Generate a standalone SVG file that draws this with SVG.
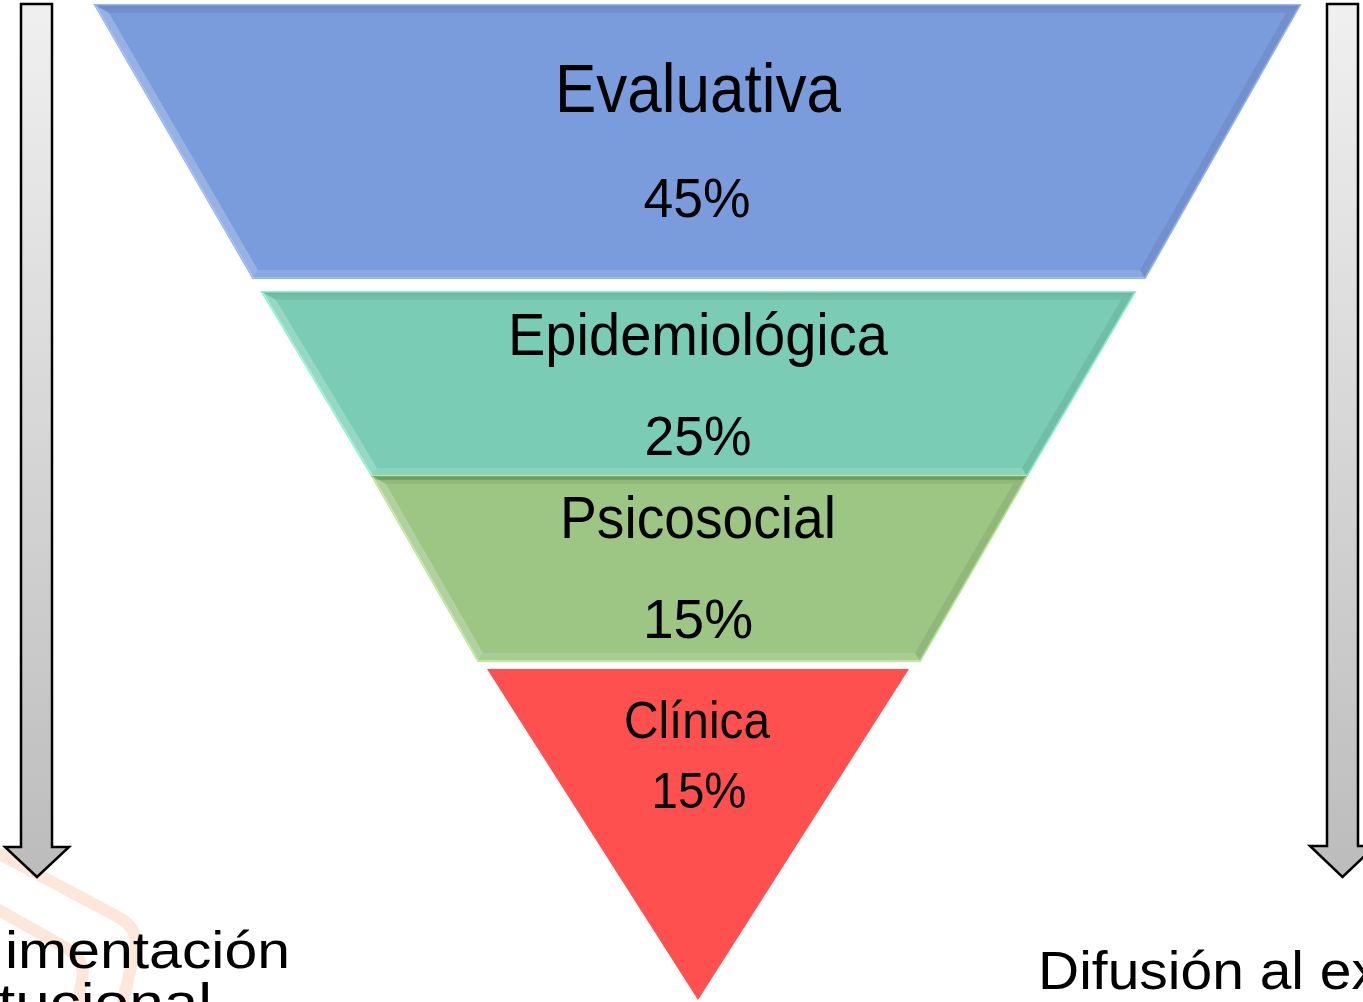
<svg xmlns="http://www.w3.org/2000/svg" width="1363" height="1002" viewBox="0 0 1363 1002">
  <defs>
    <linearGradient id="arrowGrad" x1="0" y1="0" x2="0" y2="1">
      <stop offset="0" stop-color="#f0f0f0"/>
      <stop offset="1" stop-color="#bcbcbc"/>
    </linearGradient>
    <linearGradient id="topShade" x1="0" y1="0" x2="0" y2="1">
      <stop offset="0" stop-color="#000" stop-opacity="0.12"/>
      <stop offset="1" stop-color="#000" stop-opacity="0.05"/>
    </linearGradient>
  </defs>
  <style>
    text { font-family: "Liberation Sans", Arial, sans-serif; fill: #000; }
    .mid { text-anchor: middle; }
    .arrow { fill: url(#arrowGrad); stroke: #000; stroke-width: 2.5; stroke-linejoin: miter; }
    .hi { fill: #fff; fill-opacity: 0.22; }
    .hib { fill: #fff; fill-opacity: 0.12; }
    .sh { fill: url(#topShade); }
    .shr { fill: #000; fill-opacity: 0.07; }
    .wm { fill: none; stroke: #fde6da; stroke-width: 12; stroke-linejoin: round; stroke-linecap: round; }
  </style>

  <g id="watermark">
    <path class="wm" d="M-8 850 L118 917 Q140 929 135 950 L121 1010"/>
    <path class="wm" d="M-8 906 L66 948 Q86 960 82 980 L76 1010"/>
  </g>

  <g id="connectors">
    <path id="arrow-left" class="arrow" d="M21 4 H52 V847 H69 L37 877 L5 847 H21 Z"/>
    <path id="arrow-right" class="arrow" d="M1327 4 H1358 V846 H1375 L1342.5 877 L1310 846 H1327 Z"/>
  </g>

  <g id="evaluativa">
    <polygon points="95,5 1300,5 1145,278 253,278" fill="#7a9bdc" stroke="#94b4f4" stroke-width="2"/>
    <polygon class="sh" points="95,5 1300,5 1286,13 109,13"/>
    <polygon class="hi" points="95,5 109,13 258,270 253,278"/>
    <polygon class="shr" points="1300,5 1145,278 1140,270 1286,13"/>
    <polygon class="hib" points="253,278 258,270 1140,270 1145,278"/>
    <text class="mid" x="698" y="112" font-size="68" textLength="286" lengthAdjust="spacingAndGlyphs">Evaluativa</text>
    <text class="mid" x="697" y="217" font-size="56" textLength="107" lengthAdjust="spacingAndGlyphs">45%</text>
  </g>

  <g id="epidemiologica">
    <polygon points="262,292 1135,292 1027,476 372,476" fill="#7acdb4" stroke="#90f0d2" stroke-width="2"/>
    <polygon class="sh" points="262,292 1135,292 1121,300 276,300"/>
    <polygon class="hi" points="262,292 276,300 377,468 372,476"/>
    <polygon class="shr" points="1135,292 1027,476 1022,468 1121,300"/>
    <polygon class="hib" points="372,476 377,468 1022,468 1027,476"/>
    <text class="mid" x="698" y="355" font-size="60" textLength="380" lengthAdjust="spacingAndGlyphs">Epidemiológica</text>
    <text class="mid" x="698" y="455" font-size="56" textLength="107" lengthAdjust="spacingAndGlyphs">25%</text>
  </g>

  <g id="psicosocial">
    <polygon points="372,476 1027,476 920,661 478,661" fill="#9dc584" stroke="#b6ea98" stroke-width="2"/>
    <polygon points="372,476 1027,476 1022,480 376,480" fill="#5f9a50" fill-opacity="0.5"/>
    <polygon class="sh" points="372,476 1027,476 1013,484 386,484"/>
    <polygon class="hi" points="372,476 386,484 483,653 478,661"/>
    <polygon class="shr" points="1027,476 920,661 915,653 1013,484"/>
    <polygon class="hib" points="478,661 483,653 915,653 920,661"/>
    <text class="mid" x="698" y="538" font-size="60" textLength="276" lengthAdjust="spacingAndGlyphs">Psicosocial</text>
    <text class="mid" x="698" y="638" font-size="56" textLength="110" lengthAdjust="spacingAndGlyphs">15%</text>
  </g>

  <g id="clinica">
    <polygon points="487,669 909,669 698,1000" fill="#ff5050"/>
    <text class="mid" x="697" y="738" font-size="52" textLength="146" lengthAdjust="spacingAndGlyphs">Clínica</text>
    <text class="mid" x="699" y="808" font-size="50" textLength="95" lengthAdjust="spacingAndGlyphs">15%</text>
  </g>

  <g id="label-left">
    <text x="5" y="968" font-size="52" textLength="285" lengthAdjust="spacingAndGlyphs">imentación</text>
    <text x="-2" y="1020" font-size="52" textLength="214" lengthAdjust="spacingAndGlyphs">tucional</text>
  </g>

  <g id="label-right">
    <text x="1038" y="989" font-size="54" textLength="342" lengthAdjust="spacingAndGlyphs">Difusión al ex</text>
  </g>
</svg>
